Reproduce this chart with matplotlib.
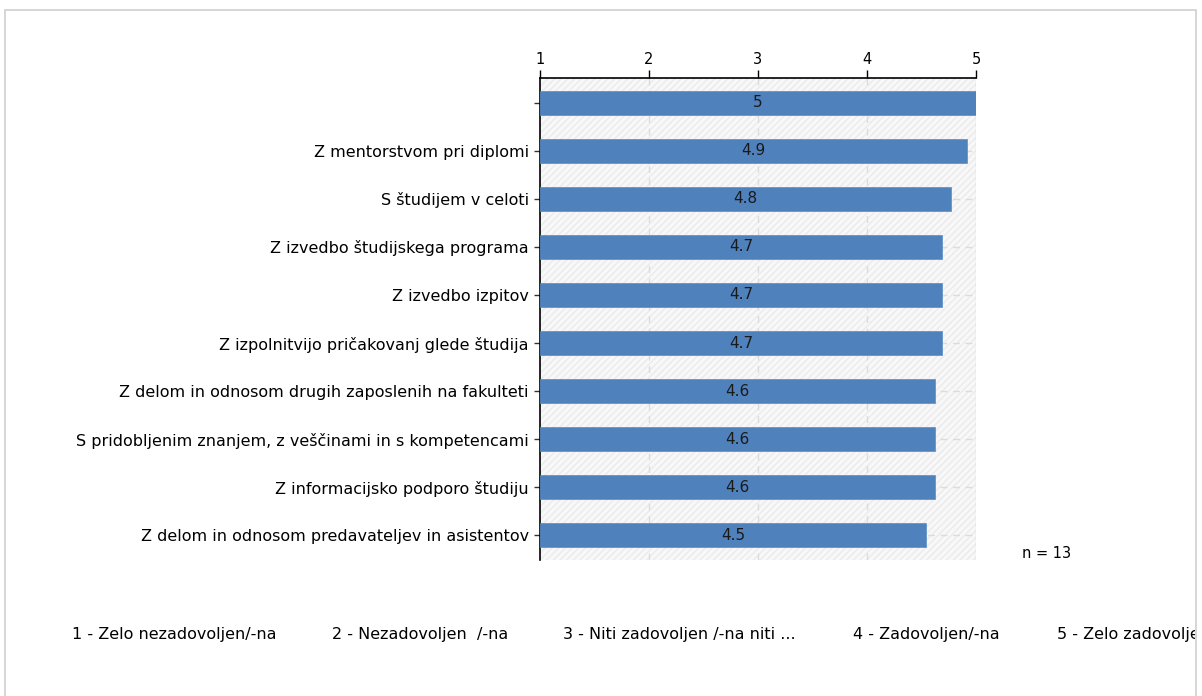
import matplotlib
matplotlib.use("Agg")
import matplotlib.pyplot as plt
from matplotlib.patches import Rectangle
from matplotlib.transforms import Bbox

categories = [
    "",
    "Z mentorstvom pri diplomi",
    "S študijem v celoti",
    "Z izvedbo študijskega programa",
    "Z izvedbo izpitov",
    "Z izpolnitvijo pričakovanj glede študija",
    "Z delom in odnosom drugih zaposlenih na fakulteti",
    "S pridobljenim znanjem, z veščinami in s kompetencami",
    "Z informacijsko podporo študiju",
    "Z delom in odnosom predavateljev in asistentov",
]
values = [5.0, 4.92, 4.77, 4.69, 4.69, 4.69, 4.62, 4.62, 4.62, 4.54]
value_labels = ["5", "4.9", "4.8", "4.7", "4.7", "4.7", "4.6", "4.6", "4.6", "4.5"]
ticks = [1, 2, 3, 4, 5]
legend_items = ["1 - Zelo nezadovoljen/-na", "2 - Nezadovoljen  /-na",
                "3 - Niti zadovoljen /-na niti ...", "4 - Zadovoljen/-na",
                "5 - Zelo zadovoljen/-na"]
n_text = "n = 13"

W, H = 1202, 696
fig = plt.figure(figsize=(W / 100, H / 100), dpi=100)
fig.patch.set_facecolor("white")

# outer border
fig.patches.append(Rectangle((5 / W, -0.01), (1196 - 5) / W, (H - 10) / H + 0.01,
                             transform=fig.transFigure, fill=False,
                             edgecolor="#d0d0d0", linewidth=1.2))

ax = fig.add_axes([540 / W, 1 - 560 / H, (976 - 540) / W, (560 - 78) / H])
ax.set_xlim(1, 5)
ax.set_ylim(len(categories) - 0.48, -0.52)

ax.set_facecolor("#f8f8f8")
ax.add_patch(Rectangle((0, 0), 1, 1, transform=ax.transAxes, facecolor="none",
                       hatch="/////", edgecolor="#ebebeb", linewidth=0, zorder=0))

ypos = list(range(len(categories)))
for x in ticks[1:-1]:
    ax.axvline(x, color="#dcdcdc", linestyle=(0, (5, 4)), linewidth=1, zorder=1)
for y in ypos:
    ax.axhline(y, color="#dcdcdc", linestyle=(0, (5, 4)), linewidth=1, zorder=1)
ax.axvline(5, color="#dcdcdc", linewidth=1, zorder=1)

bars = ax.barh(ypos, [v - 1 for v in values], left=1, height=0.5,
               color="#4f81bd", edgecolor="#5a8ac6", linewidth=0.5, zorder=3)
for y, v, lab in zip(ypos, values, value_labels):
    ax.text((1 + v) / 2, y, lab, ha="center", va="center", fontsize=11,
            color="#1a1a1a", zorder=4)

ax.xaxis.tick_top()
ax.set_xticks(ticks)
ax.set_xticklabels([str(t) for t in ticks], fontsize=10.5)
ax.tick_params(axis="x", direction="out", length=6, width=1, color="black", pad=2)
ax.set_yticks(ypos)
ax.set_yticklabels(categories, fontsize=11.5)
ax.tick_params(axis="y", direction="out", length=4, width=1, color="#333333", pad=4)

for s in ["bottom", "right"]:
    ax.spines[s].set_visible(False)
ax.spines["top"].set_color("black")
ax.spines["left"].set_color("black")
ax.spines["top"].set_linewidth(1.2)
ax.spines["left"].set_linewidth(1.2)

fig.text(1022 / W, 1 - 553 / H, n_text, fontsize=10.5, va="center", ha="left")

clip = Bbox.from_extents(5, 0, 1195, H)
legend_x = [72, 332, 563, 853, 1057]
for x, t in zip(legend_x, legend_items):
    txt = fig.text(x / W, 1 - 634 / H, t, fontsize=11.5, va="center", ha="left")
    txt.set_clip_box(clip)
    txt.set_clip_on(True)

fig.savefig("out.png", dpi=100, facecolor="white")
